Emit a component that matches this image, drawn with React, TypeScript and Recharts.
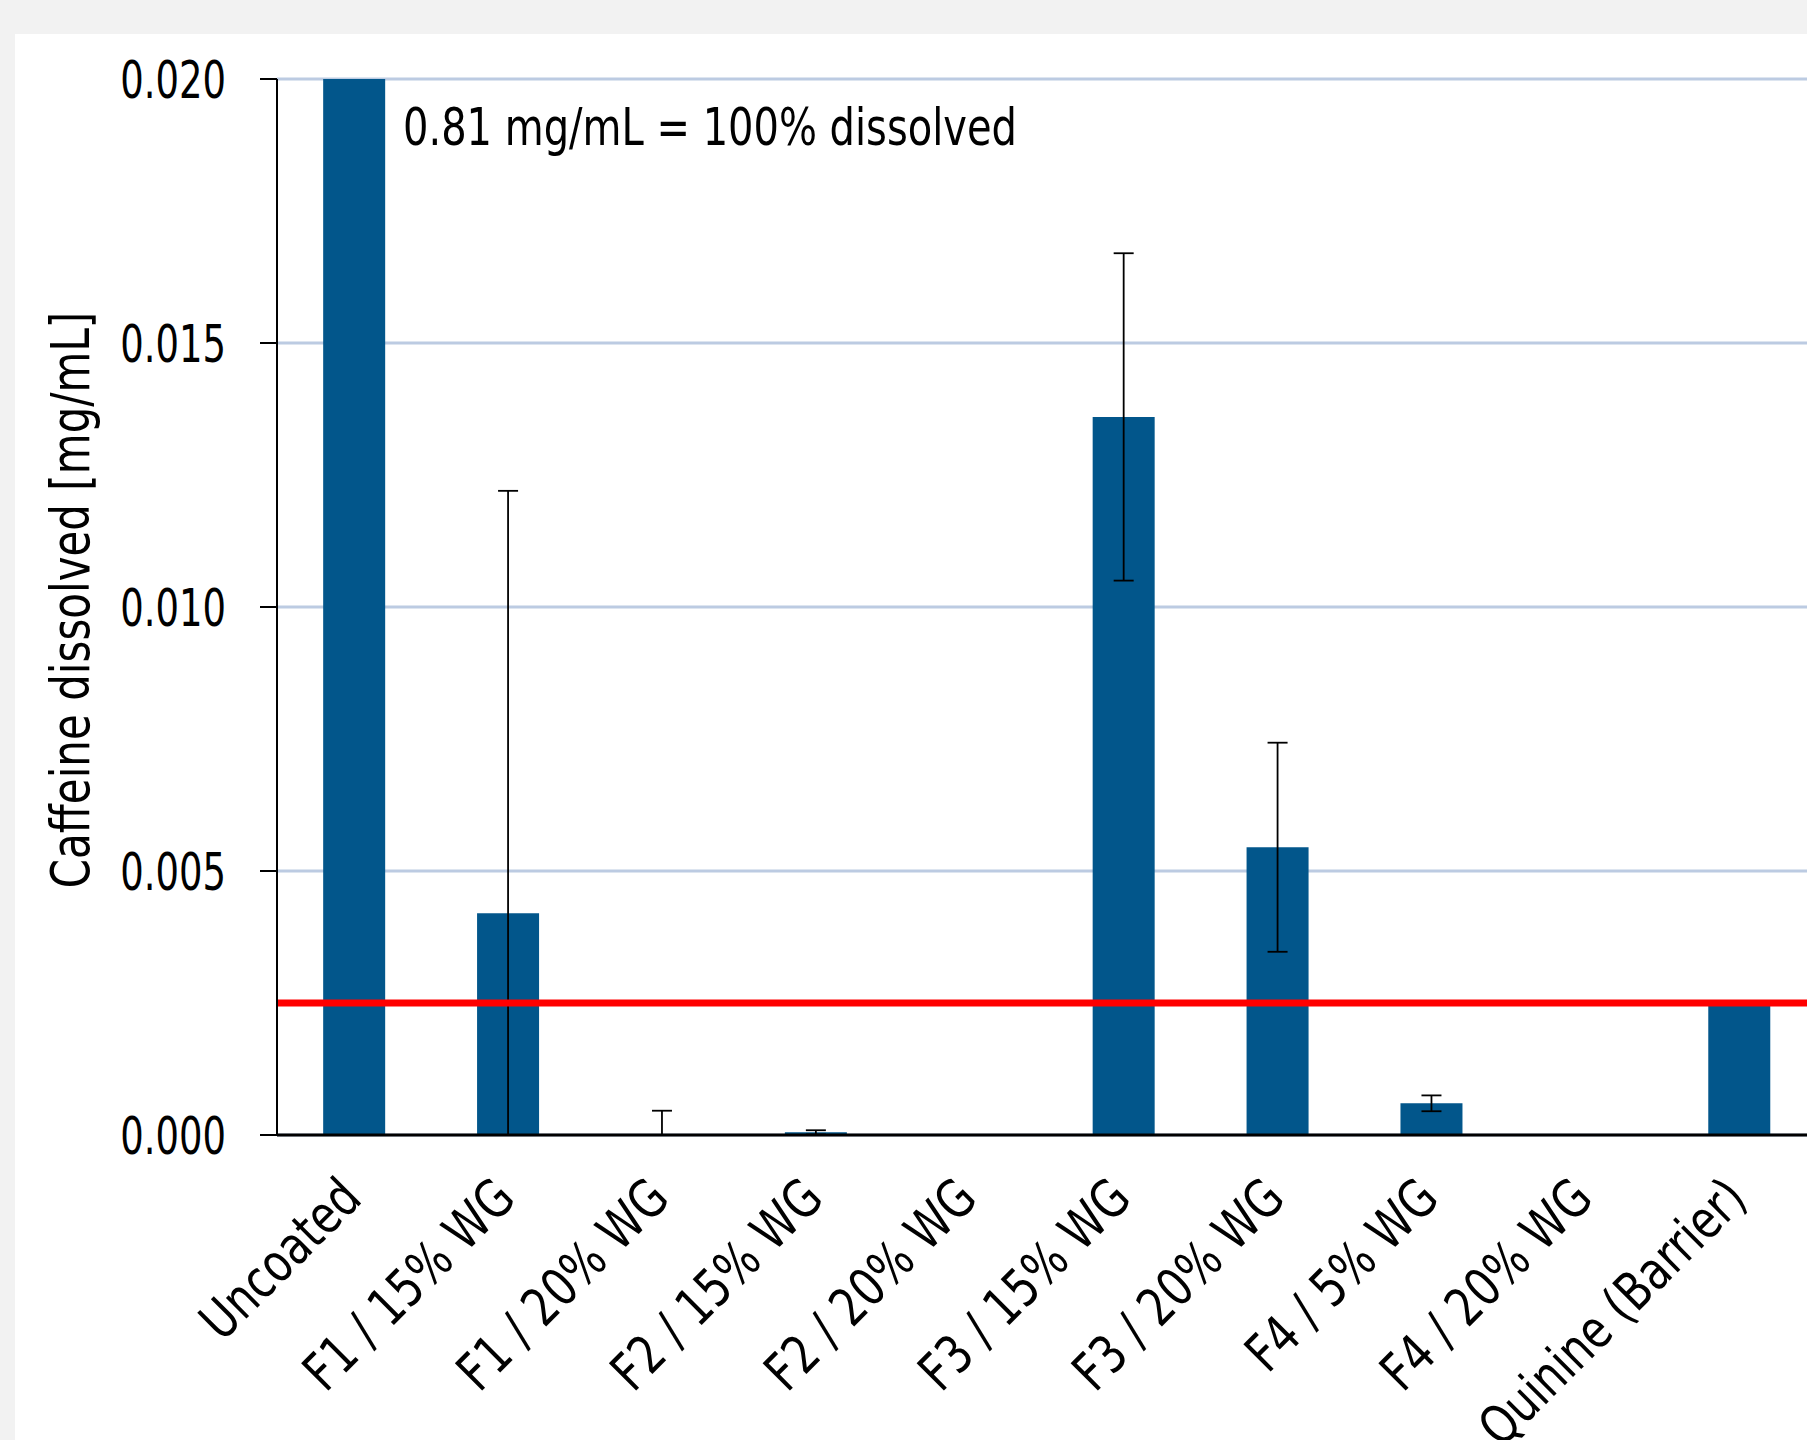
import React from 'react';
import { BarChart, Bar, XAxis, YAxis, CartesianGrid, ErrorBar, ReferenceLine } from 'recharts';

const FONT = '"Liberation Sans Narrow", "DejaVu Sans Condensed", "Roboto", sans-serif';

const categories = [
  'Uncoated',
  'F1 / 15% WG',
  'F1 / 20% WG',
  'F2 / 15% WG',
  'F2 / 20% WG',
  'F3 / 15% WG',
  'F3 / 20% WG',
  'F4 / 5% WG',
  'F4 / 20% WG',
  'Quinine (Barrier)',
];
// caffeine dissolved, mg/mL (uncoated = 0.81, runs off the top)
const dissolved = [0.81, 0.0042, 0.00001, 0.00005, 0.00001, 0.0136, 0.00545, 0.0006, 0, 0.0025];
const errors = [null, 0.008, 0.00045, 0.00004, null, 0.0031, 0.00198, 0.00015, null, null];
const yTicks = [0, 0.005, 0.01, 0.015, 0.02];
const threshold = 0.0025;
const annotation = '0.81 mg/mL = 100% dissolved';
const yTitle = 'Caffeine dissolved [mg/mL]';

// error bars stop at zero (the axis cuts them off in the original)
const data = categories.map((name, i) => {
  const err = errors[i];
  return {
    name,
    value: dissolved[i],
    error: err == null ? null : [Math.min(err, dissolved[i]), err],
  };
});

// condensed look: squeeze the glyphs along the text direction
const Narrow = ({ x, y, angle = 0, sx, size, anchor = 'start', dy, children }: any) => (
  <text
    transform={`translate(${x},${y}) rotate(${angle}) scale(${sx},1)`}
    x={0}
    y={0}
    dy={dy}
    textAnchor={anchor}
    fontSize={size}
    fontFamily={FONT}
    fill="#000"
  >
    {children}
  </text>
);

const CategoryTick = (props: any) => {
  const { x, y, payload } = props;
  return (
    <Narrow x={x + 10} y={y + 66} angle={-45} sx={0.88} size={53} anchor="end">
      {payload.value}
    </Narrow>
  );
};

const ValueTick = (props: any) => {
  const { x, y, payload } = props;
  return (
    <Narrow x={x} y={y} sx={0.79} size={52} anchor="end" dy="0.36em">
      {payload.value.toFixed(3)}
    </Narrow>
  );
};

const YTitle = (props: any) => {
  const { viewBox } = props;
  return (
    <Narrow
      x={viewBox.x + 89}
      y={viewBox.y + viewBox.height / 2 - 7}
      angle={-90}
      sx={0.865}
      size={54}
      anchor="middle"
    >
      {yTitle}
    </Narrow>
  );
};

const Annotation = (props: any) => {
  const { viewBox } = props;
  return (
    <Narrow x={viewBox.x + 126} y={viewBox.y + 66} sx={0.855} size={52}>
      {annotation}
    </Narrow>
  );
};

export default function App() {
  return (
    <div
      style={{
        position: 'fixed',
        left: 0,
        top: 0,
        width: 1807,
        height: 1440,
        background: '#f2f2f2',
        overflow: 'hidden',
      }}
    >
      <div style={{ position: 'absolute', left: 15, top: 34, right: 0, bottom: 0, background: '#fff' }} />
      <div style={{ position: 'absolute', left: 0, top: 0 }}>
        <BarChart
          width={1900}
          height={1440}
          data={data}
          margin={{ top: 79, right: 84, left: 0, bottom: 0 }}
          barCategoryGap="30%"
        >
          <CartesianGrid vertical={false} stroke="#bccbe2" strokeWidth={3} />
          <XAxis
            dataKey="name"
            height={305}
            interval={0}
            tickLine={false}
            tickSize={0}
            tickMargin={0}
            axisLine={{ stroke: '#000', strokeWidth: 3 }}
            tick={<CategoryTick />}
          />
          <YAxis
            width={277}
            domain={[0, 0.02]}
            ticks={yTicks}
            allowDataOverflow
            tickSize={17}
            tickMargin={34}
            axisLine={{ stroke: '#000', strokeWidth: 2 }}
            tickLine={{ stroke: '#000', strokeWidth: 2 }}
            tick={<ValueTick />}
            label={{ content: <YTitle /> }}
          />
          <Bar dataKey="value" fill="#02568b" isAnimationActive={false}>
            <ErrorBar dataKey="error" width={10} stroke="#000" strokeWidth={1.8} direction="y" />
          </Bar>
          <ReferenceLine y={threshold} stroke="#ff0000" strokeWidth={7} />
          <ReferenceLine y={0.02} stroke="none" label={{ content: <Annotation /> }} />
        </BarChart>
      </div>
    </div>
  );
}
